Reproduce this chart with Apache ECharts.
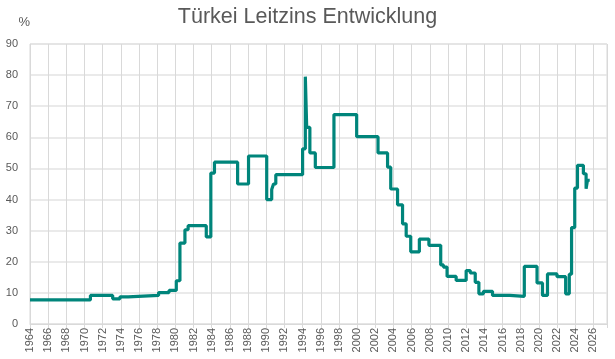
<!DOCTYPE html>
<html><head><meta charset="utf-8">
<script src="https://cdn.jsdelivr.net/npm/echarts@6/dist/echarts.min.js"></script>
<style>html,body{margin:0;padding:0;background:#fff}#c{width:615px;height:359px}</style>
</head><body><div id="c"></div>
<script>
const titleText = "Türkei Leitzins Entwicklung";
const yUnit = "%";
// change dates (decimal years) and the rate valid from that date
const dates = [1964.0, 1970.65, 1973.1, 1973.9, 1974.8, 1978.15, 1979.3, 1980.1, 1980.5, 1981.05, 1981.4, 1983.4, 1983.9, 1984.3, 1986.85, 1988.05, 1990.05, 1990.6, 1990.8, 1991.05, 1994.0, 1994.3, 1994.45, 1994.8, 1995.4, 1997.45, 1999.95, 2002.3, 2003.35, 2003.7, 2004.45, 2005.0, 2005.4, 2005.9, 2006.85, 2007.9, 2009.2, 2009.5, 2009.9, 2010.9, 2012.0, 2012.45, 2013.0, 2013.4, 2013.9, 2014.9, 2016.8, 2018.4, 2019.8, 2020.4, 2020.95, 2022.0, 2022.95, 2023.35, 2023.6, 2023.95, 2024.25, 2024.9, 2025.2, 2025.35, 2025.6];
const rates = [7.75, 9.2, 8.1, 8.75, 9.2, 10.1, 10.8, 13.9, 26, 30.3, 31.6, 28, 48.5, 52, 45, 54, 40, 43.2, 45, 48, 56.3, 79.5, 63.2, 55, 50.3, 67.3, 60.2, 55, 50.4, 43.4, 38.3, 32.2, 28.2, 23.2, 27.3, 25.3, 19, 18.3, 15.3, 14, 17.2, 16.4, 13.4, 9.7, 10.5, 9.2, 8.9, 18.5, 13.2, 9.2, 16.1, 15.2, 9.7, 16, 31, 43.7, 51, 48.3, 43.5, 46.2, 46.2];
const xMin = 1964, xMax = 2027.5, xStep = 2;
const yMin = 0, yMax = 90, yStep = 10;

const chart = echarts.init(document.getElementById('c'), null, {renderer: 'canvas'});
const font = 'Liberation Sans, Arial, sans-serif';
chart.setOption({
  animation: false,
  title: {text: titleText, left: 'center', top: 1, textStyle: {fontFamily: font, fontSize: 21.5, fontWeight: 'normal', color: '#595959'}},
  grid: {left: 30, right: 8, top: 44, bottom: 35, show: true, borderColor: '#d9d9d9', borderWidth: 1},
  xAxis: {
    type: 'value', min: xMin, max: xMax, interval: xStep,
    axisLine: {show: true, lineStyle: {color: '#d9d9d9'}},
    axisTick: {show: true, length: 4, lineStyle: {color: '#d9d9d9'}},
    splitLine: {show: true, lineStyle: {color: '#d9d9d9', width: 1}},
    axisLabel: {rotate: 90, fontFamily: font, fontSize: 11, color: '#595959', margin: 4,
      formatter: v => (v % 2 === 0 ? String(v) : '')}
  },
  yAxis: {
    type: 'value', min: yMin, max: yMax, interval: yStep,
    name: yUnit, nameLocation: 'end', nameGap: 15,
    nameTextStyle: {fontFamily: font, fontSize: 13, color: '#595959', align: 'right', padding: [0, 0, 0, 0]},
    axisLine: {show: false}, axisTick: {show: false},
    splitLine: {show: true, lineStyle: {color: '#e3e3e3', width: 1.5}},
    axisLabel: {fontFamily: font, fontSize: 11, color: '#595959', margin: 12}
  },
  series: [{
    type: 'line', step: 'end', showSymbol: false,
    data: dates.map((d, i) => [d, rates[i]]),
    lineStyle: {color: '#00857b', width: 3.2},
    itemStyle: {color: '#00857b'}
  }]
});
</script></body></html>
